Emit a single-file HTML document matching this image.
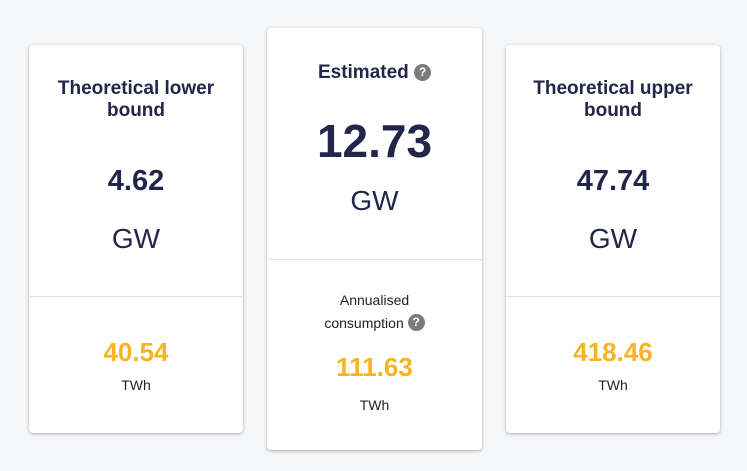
<!DOCTYPE html>
<html><head><meta charset="utf-8"><style>
body{margin:0;width:747px;height:471px;background:#f5f6f8;font-family:"Liberation Sans",sans-serif;position:relative;overflow:hidden}
.card{position:absolute;background:#fff;border-radius:4px;box-shadow:0 1px 3px rgba(0,0,0,.3)}
.t{position:absolute;left:0;right:0;text-align:center;color:#22264a;white-space:nowrap}
.div{position:absolute;left:0;right:0;height:1px;background:#e2e2e2}
.q{display:inline-block;width:17px;height:17px;border-radius:50%;background:#7b7b7b;color:#fff;font-size:12px;line-height:17px;font-weight:bold;text-align:center;vertical-align:2px}
.o{color:#f8b322;font-weight:bold;font-size:26px}
.u{font-size:14px;color:#222}
</style></head><body>
<div class="card" style="left:29px;top:45px;width:214px;height:388px">
 <div class="t" style="top:33px;font-size:19px;font-weight:bold;line-height:22px">Theoretical lower<br>bound</div>
 <div class="t" style="top:120px;font-size:29px;font-weight:bold">4.62</div>
 <div class="t" style="top:178px;font-size:28px">GW</div>
 <div class="div" style="top:251px"></div>
 <div class="t o" style="top:292px">40.54</div>
 <div class="t u" style="top:332px">TWh</div>
</div>
<div class="card" style="left:267px;top:28px;width:215px;height:422px">
 <div class="t" style="top:34px;font-size:19px;font-weight:bold">Estimated <span class="q">?</span></div>
 <div class="t" style="top:86px;font-size:46px;font-weight:bold">12.73</div>
 <div class="t" style="top:157px;font-size:28px">GW</div>
 <div class="div" style="top:231px"></div>
 <div class="t u" style="top:261px;line-height:23px">Annualised<br>consumption <span class="q">?</span></div>
 <div class="t o" style="top:324px">111.63</div>
 <div class="t u" style="top:369px">TWh</div>
</div>
<div class="card" style="left:506px;top:45px;width:214px;height:388px">
 <div class="t" style="top:33px;font-size:19px;font-weight:bold;line-height:22px">Theoretical upper<br>bound</div>
 <div class="t" style="top:120px;font-size:29px;font-weight:bold">47.74</div>
 <div class="t" style="top:178px;font-size:28px">GW</div>
 <div class="div" style="top:251px"></div>
 <div class="t o" style="top:292px">418.46</div>
 <div class="t u" style="top:332px">TWh</div>
</div>
</body></html>
